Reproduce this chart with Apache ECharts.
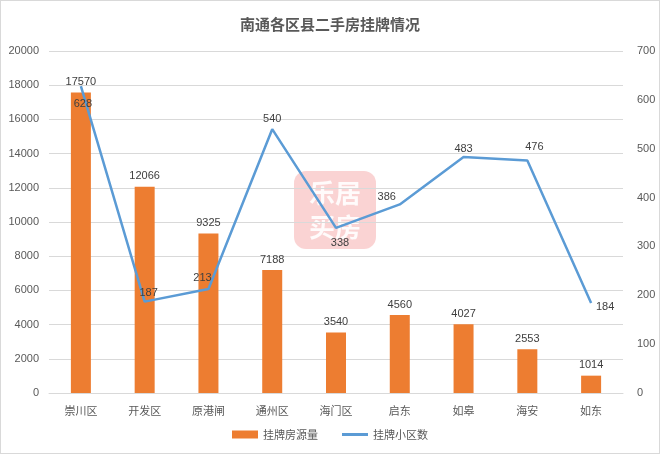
<!DOCTYPE html>
<html><head><meta charset="utf-8">
<script src="https://cdn.jsdelivr.net/npm/echarts@6/dist/echarts.min.js"></script>
<style>html,body{margin:0;padding:0;background:#fff}#c{width:658px;height:452px;border:1px solid #d9d9d9}</style>
</head><body><div id="c"></div>
<script>
const categories = ['崇川区','开发区','原港闸','通州区','海门区','启东','如皋','海安','如东'];
const listings = [17570,12066,9325,7188,3540,4560,4027,2553,1014];
const communities = [628,187,213,540,338,386,483,476,184];
const leftTicks = [0,20000,2000];
const rightTicks = [0,700,100];
const lineLabelOffsets = [[2,28],[4,2],[-6,0],[0,0],[4,26],[-13,3],[0,2],[7,-3],[14,14]];

const chart = echarts.init(document.getElementById('c'));
const txt = '#595959';
chart.setOption({
  animation:false,
  title:{text:'南通各区县二手房挂牌情况',left:'center',top:11,textStyle:{fontSize:15,fontWeight:'bold',color:'#595959',fontFamily:'Noto Sans CJK SC'}},
  graphic:[{type:'group',left:293,top:170,children:[
    {type:'rect',shape:{x:0,y:0,width:82,height:78,r:12},style:{fill:'rgba(240,110,110,0.3)'}},
    {type:'text',style:{x:41,y:22,text:'乐居',fill:'rgba(255,255,255,0.9)',font:'bold 26px Noto Sans CJK SC',align:'center',verticalAlign:'middle'}},
    {type:'text',style:{x:41,y:56,text:'买房',fill:'rgba(255,255,255,0.9)',font:'bold 26px Noto Sans CJK SC',align:'center',verticalAlign:'middle'}}
  ]}],
  legend:{bottom:8,itemGap:24,itemWidth:26,itemHeight:8,textStyle:{color:txt,fontSize:11,fontFamily:'Noto Sans CJK SC'},
    data:[{name:'挂牌房源量',icon:'rect'},{name:'挂牌小区数',icon:'path://M0,4h26v3h-26z'}]},
  grid:{left:48,right:36,top:50,bottom:60},
  xAxis:{type:'category',data:categories,axisTick:{show:false},axisLine:{lineStyle:{color:'#d9d9d9'}},
    axisLabel:{color:txt,fontSize:11,margin:12,fontFamily:'Noto Sans CJK SC'}},
  yAxis:[
    {type:'value',min:leftTicks[0],max:leftTicks[1],interval:leftTicks[2],axisLabel:{color:txt,fontSize:11,margin:10,formatter:v=>String(v)},
      splitLine:{lineStyle:{color:'#d9d9d9'}},axisLine:{show:false},axisTick:{show:false}},
    {type:'value',min:rightTicks[0],max:rightTicks[1],interval:rightTicks[2],axisLabel:{color:txt,fontSize:11,margin:14,formatter:v=>String(v)},
      splitLine:{show:false},axisLine:{show:false},axisTick:{show:false}}
  ],
  series:[
    {name:'挂牌房源量',type:'bar',data:listings,barWidth:20,itemStyle:{color:'#ED7D31'},
      label:{show:true,position:'top',color:'#404040',fontSize:11,distance:5}},
    {name:'挂牌小区数',type:'line',yAxisIndex:1,showSymbol:true,symbol:'circle',symbolSize:0.1,z:5,
      lineStyle:{color:'#5B9BD5',width:2.5},itemStyle:{color:'#5B9BD5'},
      data:communities.map((v,i)=>({value:v,label:{offset:lineLabelOffsets[i]}})),
      label:{show:true,position:'top',color:'#404040',fontSize:11}}
  ]
});
</script></body></html>
